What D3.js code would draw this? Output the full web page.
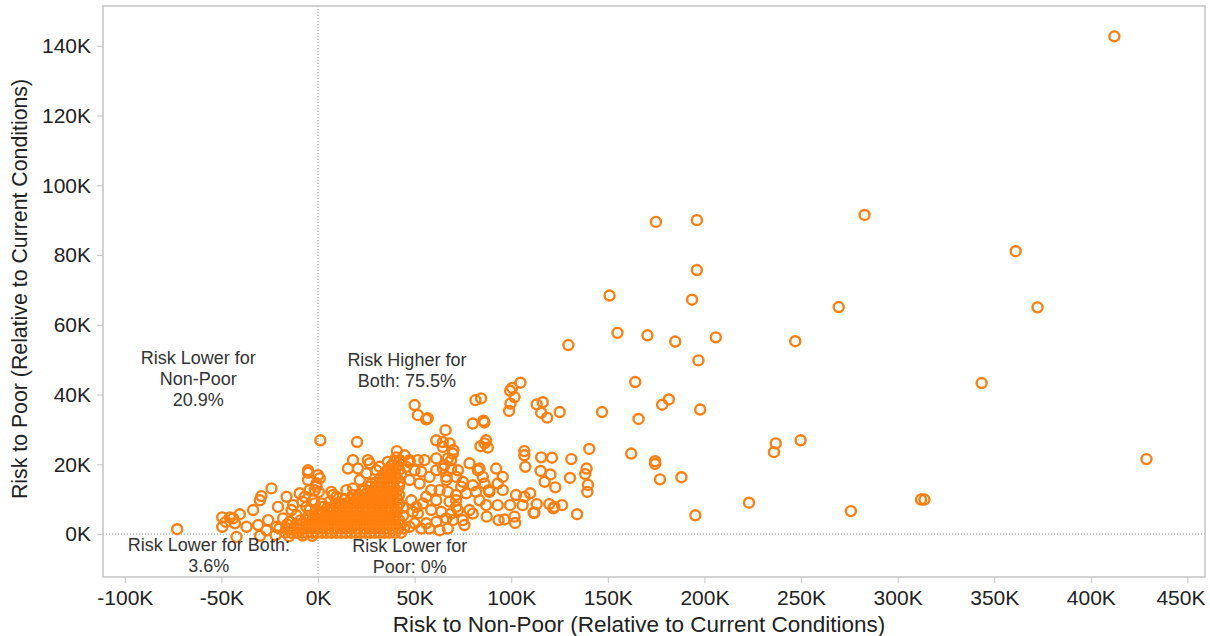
<!DOCTYPE html>
<html>
<head>
<meta charset="utf-8">
<script src="https://cdn.jsdelivr.net/npm/d3@7"></script>
<style>
  html, body { margin: 0; padding: 0; background: #fff; }
  svg { display: block; }
  text { font-family: "Liberation Sans", Arial, sans-serif; }
</style>
</head>
<body>
<svg id="chart" width="1210" height="636"></svg>
<script>
// ---- Data (values in thousands) ----
const xTickValues = [-100, -50, 0, 50, 100, 150, 200, 250, 300, 350, 400, 450];
const yTickValues = [0, 20, 40, 60, 80, 100, 120, 140];
const xTitle = "Risk to Non-Poor (Relative to Current Conditions)";
const yTitle = "Risk to Poor (Relative to Current Conditions)";

// [riskNonPoor, riskPoor]
const outlierPoints = [
  [412.2,142.7],[428.8,21.5],[372.4,65.0],[361.1,81.1],[343.5,43.3],[312.1,9.9],[313.9,9.9],
  [282.9,91.5],[269.5,65.1],[247.0,55.3],[236.9,26.0],[236.0,23.5],[249.8,26.9],[223.1,9.0],[275.8,6.6],
  [174.9,89.5],[196.1,90.0],[196.1,75.7],[150.9,68.4],[193.6,67.2],[155.0,57.7],[170.5,57.0],
  [184.9,55.2],[205.9,56.4],[196.9,49.8],[164.2,43.6],[181.6,38.6],[178.1,37.1],[197.8,35.7],
  [147.0,35.0],[165.9,33.0],[162.1,23.1],[174.5,20.9],[174.5,20.1],[177.0,15.7],[188.1,16.3],
  [195.3,5.4],[129.6,54.2]
];

const midPoints = [
  [104.8,43.4],[100.5,41.9],[99.4,41.1],[101.7,39.3],[99.6,37.4],[98.9,35.3],
  [113.2,37.2],[116.3,37.8],[115.5,34.8],[118.6,33.4],[125.1,35.0],
  [81.5,38.4],[84.4,38.9],[80.1,31.7],[85.6,32.5],[86.1,32.0],
  [87.0,26.9],[86.2,26.0],[84.1,25.2],[87.9,24.8],
  [106.8,23.8],[106.8,22.6],[107.3,19.3],[115.5,22.0],[121.1,21.9],[131.1,21.5],[140.4,24.4],
  [139.0,18.8],[138.3,17.2],[139.7,14.1],[139.4,12.1],
  [115.2,18.1],[120.3,17.1],[117.3,15.0],[122.8,13.4],[130.4,16.1],[134.1,5.7],
  [83.6,18.8],[92.2,18.8],[95.6,16.4],[86.2,14.5],[93.0,14.5],[88.4,12.6],[95.6,12.6],
  [102.5,11.2],[106.8,10.7],[109.8,11.7],
  [87.0,8.3],[93.0,8.3],[99.4,8.3],[105.9,8.3],[113.2,8.6],[119.7,8.6],[126.3,8.3],[122.3,7.8],
  [87.3,5.0],[93.5,4.0],[96.5,4.2],[101.7,5.0],[102.0,3.2],[112.0,6.1],[121.8,7.4],[111.6,6.1],
  [66.0,29.8],[72.4,18.3],[74.9,15.0],[71.5,11.2],[78.4,20.3],[82.7,18.3],[85.3,16.4],
  [74.1,13.6],[80.1,14.0],[76.7,11.7],[81.8,12.1],[83.6,9.7],[72.4,6.9],[78.4,6.9],[80.1,5.9],[88.7,12.1],
  [64.6,25.0],[67.2,21.7],[69.8,23.1],[65.5,19.8],[66.4,16.4],[68.9,21.2],
  [69.8,4.0],[74.9,4.0],[75.8,2.6]
];

const bandPoints = [
  [50.0,37.0],[51.7,34.1],[56.0,32.9],[56.8,33.2],[1.2,26.9],[20.2,26.4],[61.2,26.9],[64.6,26.4],
  [68.1,26.0],[40.8,23.8],[70.1,24.1],
  [18.1,21.2],[15.5,18.8],[25.8,21.2],[26.7,20.3],[36.2,20.7],[47.4,21.2],[51.7,21.2],[55.1,21.2],[61.2,21.7],
  [-5.2,18.3],[0.0,16.9],[-0.8,13.6],[-1.7,12.6],[-9.5,11.7],[-6.9,10.7],[6.9,12.1],[7.8,11.2],
  [14.7,12.6],[18.1,13.1],[24.1,12.6],[1.8,8.8],[0.9,6.4],
  [45.7,19.3],[50.0,18.3],[53.4,17.9],[47.4,15.5],[52.6,14.5],[57.7,16.4],[61.2,18.3],[64.6,18.8],
  [68.9,18.8],[66.4,15.5],[71.5,16.4],[58.6,12.6],[62.9,12.6],[67.2,12.1],[56.0,10.7],[61.2,9.7],
  [68.1,9.3],[71.5,9.7],[58.6,6.9],[63.8,6.4],[68.9,5.9],[66.4,4.5],[61.2,3.5],[56.0,3.1],[71.5,7.8],
  [51.7,5.9],[50.0,3.1],[53.4,1.6],[62.9,1.1],[67.2,1.6],[57.7,1.6],[47.4,2.1],[48.3,9.7],[50.9,7.8],
  [54.3,8.8],[49.1,6.4],
  [20.7,18.8],[25.0,17.4],[30.2,18.3],[31.9,19.3],[40.5,19.3],[37.9,17.4],[33.6,15.5],[21.6,15.5],
  [27.6,14.5],[9.5,10.7],[6.0,9.3],[11.2,8.8],[2.6,7.8],[-2.6,9.7],[-4.3,6.9],[-5.2,15.5],[-0.8,14.5],
  [-4.3,12.6],[44.8,22.6],[42.2,21.2],[47.4,20.6]
];

const leftPoints = [
  [-72.9,1.4],[-49.6,4.8],[-49.6,2.1],[-45.6,4.8],[-43.9,4.5],[-40.5,5.7],[-43.0,3.1],[-47.7,3.5],[-42.2,-0.8],
  [-33.6,6.9],[-30.1,9.7],[-29.3,10.9],[-24.1,13.1],[-20.7,7.8],[-31.0,2.6],[-37.0,2.1],[-25.8,4.0],
  [-26.7,1.1],[-21.5,2.1],[-16.3,10.7],[-12.9,8.3],[-8.1,9.3],[-13.7,6.9],[-11.2,5.4],[-18.1,4.5],
  [-14.6,3.5],[-6.0,7.8],[-1.7,8.8],[-5.2,17.6],[0.9,16.0],[0.4,12.1],
  [-30.0,-0.5],[-22.0,-0.3],[-15.0,-0.6],[-8.0,-0.4],[-3.0,-0.5]
];

// dense core near the origin: [riskPoor, [riskNonPoor values]]
const coreRows = [
  [0.4,  [-17,-14,-11,-8,-5.5,-3,-0.5,2,4.5,7,9.5,12,14.5,17,19.5,22,24.5,27,29.5,32,34.5,37,40,43]],
  [1.6,  [-20,-15.5,-12.5,-9.5,-6.5,-3.5,-0.5,2.5,5.5,8.5,11.5,14.5,17.5,20.5,23.5,26.5,29.5,32.5,35.5,38.5,41.5,44.5]],
  [2.8,  [-16,-11,-8,-5,-2,1,4,7,10,13,16,19,22,25,28,31,34,37,40,43]],
  [4.0,  [-9,-6,-3,0,3,6,9,12,15,18,21,24,27,30,33,36,39,42]],
  [5.2,  [-5,-2,1,4,7,10,13,16,19,22,25,28,31,34,37,40,44]],
  [6.4,  [-1,2,5,8,11,14,17,20,23,26,29,32,35,38,41]],
  [7.6,  [5,8,11,14,17,20,23,26,29,32,35,38,41,44]],
  [8.8,  [9,12,15,18,21,24,27,30,33,36,39,42]],
  [10.0, [14,17,20,23,26,29,32,35,38,41]],
  [11.2, [18,21,24,27,30,33,36,39,42]],
  [12.4, [23,26,29,32,35,38,41]],
  [13.6, [27,30,33,36,39,42]],
  [14.8, [30,33,36,39,42]],
  [16.0, [32,35,38,41]],
  [17.2, [34,37,40,43]],
  [18.4, [36,39,42]],
  [19.6, [38,41]],
  [20.8, [39.5,42.5]],
  [22.0, [40.5]]
];

const annotations = [
  { lines: ["Risk Lower for", "Non-Poor", "20.9%"], x: -62, y: 364 },
  { lines: ["Risk Higher for", "Both: 75.5%"], x: 46, y: 366 },
  { lines: ["Risk Lower for Both:", "3.6%"], x: -56.5, y: 551 },
  { lines: ["Risk Lower for", "Poor: 0%"], x: 47.5, y: 551.5 }
];

// ---- Build ----
const corePoints = coreRows.flatMap(([y, xs]) => xs.map(x => [x, y]));
const allPoints = [...corePoints, ...leftPoints, ...bandPoints, ...midPoints, ...outlierPoints];

const plot = { left: 103, top: 6, right: 1205, bottom: 577 };

const x = d3.scaleLinear().domain([-111.3, 459.1]).range([plot.left, plot.right]);
const y = d3.scaleLinear().domain([-12.3, 151.4]).range([plot.bottom, plot.top]);

const svg = d3.select("#chart");

svg.append("defs").append("clipPath").attr("id", "plotclip")
  .append("rect").attr("x", plot.left).attr("y", plot.top)
  .attr("width", plot.right - plot.left).attr("height", plot.bottom - plot.top);

// zero reference lines
svg.append("line")
  .attr("x1", x(0)).attr("x2", x(0)).attr("y1", plot.top).attr("y2", plot.bottom)
  .attr("stroke", "#9a9a9a").attr("stroke-width", 1).attr("stroke-dasharray", "1,2");
svg.append("line")
  .attr("x1", plot.left).attr("x2", plot.right).attr("y1", y(0)).attr("y2", y(0))
  .attr("stroke", "#9a9a9a").attr("stroke-width", 1).attr("stroke-dasharray", "1,2");

// points
svg.append("g").attr("clip-path", "url(#plotclip)")
  .selectAll("circle").data(allPoints).join("circle")
  .attr("cx", d => x(d[0])).attr("cy", d => y(d[1]))
  .attr("r", 5)
  .attr("fill", "none")
  .attr("stroke", "#ff7f0e")
  .attr("stroke-width", 2.4);

// annotations
const ann = svg.append("g").attr("fill", "#333").attr("font-size", 18).attr("text-anchor", "middle");
annotations.forEach(a => {
  a.lines.forEach((t, i) => {
    ann.append("text").attr("x", x(a.x)).attr("y", a.y + i * 21.2).text(t);
  });
});

// frame
svg.append("rect")
  .attr("x", plot.left).attr("y", plot.top)
  .attr("width", plot.right - plot.left).attr("height", plot.bottom - plot.top)
  .attr("fill", "none").attr("stroke", "#c4c4c4").attr("stroke-width", 1.5);

// axes
const xAxis = svg.append("g").attr("transform", `translate(0,${plot.bottom})`)
  .call(d3.axisBottom(x).tickValues(xTickValues).tickFormat(d => d + "K").tickSize(6).tickPadding(7));
const yAxis = svg.append("g").attr("transform", `translate(${plot.left},0)`)
  .call(d3.axisLeft(y).tickValues(yTickValues).tickFormat(d => d + "K").tickSize(6).tickPadding(6));
[xAxis, yAxis].forEach(g => {
  g.select(".domain").remove();
  g.selectAll(".tick line").attr("stroke", "#c4c4c4").attr("stroke-width", 1);
  g.selectAll(".tick text").attr("fill", "#222").attr("font-size", 21)
    .attr("font-family", "'Liberation Sans', Arial, sans-serif");
});
// keep the last x tick label inside the picture
xAxis.selectAll(".tick text").filter(d => d === xTickValues[xTickValues.length - 1]).attr("dx", -7);

// axis titles
svg.append("text")
  .attr("x", 639).attr("y", 632)
  .attr("text-anchor", "middle").attr("font-size", 22.5).attr("fill", "#222")
  .text(xTitle);
svg.append("text")
  .attr("transform", "translate(27,289) rotate(-90)")
  .attr("text-anchor", "middle").attr("font-size", 21.3).attr("fill", "#222")
  .text(yTitle);
</script>
</body>
</html>
